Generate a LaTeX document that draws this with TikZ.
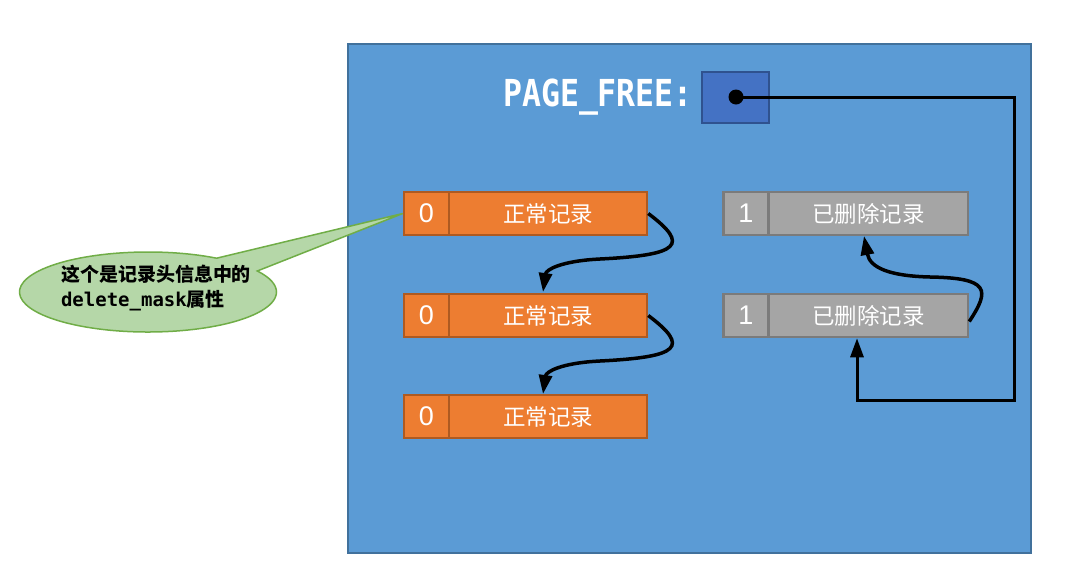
\documentclass[tikz,border=0pt]{standalone}
\usepackage{fontspec}
\setmainfont{Liberation Sans}
\newfontfamily\cjk{Noto Sans CJK SC}
\newfontfamily\monob{DejaVu Sans Mono}
\usetikzlibrary{shapes.callouts,arrows.meta}
\definecolor{pageblue}{HTML}{5B9BD5}
\definecolor{pageedge}{HTML}{41719C}
\definecolor{ptrfill}{HTML}{4472C4}
\definecolor{ptredge}{HTML}{2F528F}
\definecolor{recfill}{HTML}{ED7D31}
\definecolor{recedge}{HTML}{AE5A21}
\definecolor{delfill}{HTML}{A5A5A5}
\definecolor{deledge}{HTML}{7B7B7B}
\definecolor{notefill}{HTML}{B5D7A8}
\definecolor{noteedge}{HTML}{70AD47}
\tikzset{
  flagcell/.style={draw=#1, line width=2.5pt, minimum width=45pt, minimum height=43pt, inner sep=0pt, text=white, font=\fontsize{27}{27}\selectfont},
  labcell/.style={draw=#1, line width=2.5pt, minimum width=198pt, minimum height=43pt, inner sep=0pt, text=white, font=\cjk\fontsize{22.5}{22.5}\selectfont},
  link/.style={line width=3.5pt, -{Triangle[length=19pt,width=13pt]}}
}
\begin{document}
\begin{tikzpicture}[x=1pt,y=-1pt]
\useasboundingbox (0,0) rectangle (1069,574);
\node[draw=pageedge, fill=pageblue, line width=2.5pt, minimum width=683pt, minimum height=509pt, inner sep=0pt] (page) at (689.5,298.5) {};
\node[anchor=east, text=white, inner sep=0pt, font=\monob\bfseries\fontsize{31.5}{31.5}\selectfont] (pflabel) at (693,97) {\scalebox{1}[1.18]{PAGE\_FREE:}};
\node[draw=ptredge, fill=ptrfill, line width=2.5pt, minimum width=67pt, minimum height=51pt, inner sep=0pt] (pf) at (735.5,97.5) {};
\coordinate (dot) at (736,97);
% normal records
\node[flagcell=recedge, fill=recfill] (f1) at (426.5,213.5) {0};
\node[labcell=recedge, fill=recfill] (r1) at (548,213.5) {正常记录};
\node[flagcell=recedge, fill=recfill] (f2) at (426.5,315.5) {0};
\node[labcell=recedge, fill=recfill] (r2) at (548,315.5) {正常记录};
\node[flagcell=recedge, fill=recfill] (f3) at (426.5,416.5) {0};
\node[labcell=recedge, fill=recfill] (r3) at (548,416.5) {正常记录};
% deleted records
\node[flagcell=deledge, fill=delfill] (g1) at (746,213.5) {1};
\node[labcell=deledge, fill=delfill, minimum width=199pt] (d1) at (868.5,213.5) {已删除记录};
\node[flagcell=deledge, fill=delfill] (g2) at (746,315.5) {1};
\node[labcell=deledge, fill=delfill, minimum width=199pt] (d2) at (868.5,315.5) {已删除记录};
% links
\draw[link] (r1.east) .. controls (690,245) and (680,255) .. (600,259) .. controls (560,261) and (546,270) .. (543,292);
\draw[link] (r2.east) .. controls (690,347) and (680,357) .. (600,361) .. controls (560,363) and (546,372) .. (543,394);
\draw[link] ([yshift=-6pt]d2.east) .. controls (990,290) and (990,278) .. (930,277) .. controls (890,276) and (870,268) .. (864,236);
\draw[line width=3pt, -{Triangle[length=19pt,width=13pt]}] (dot) -- (1014,97) -- (1014,400) -- (857,400) -- ([xshift=-11.5pt]d2.south);
\fill (dot) circle (7.5pt);
% callout
\node[ellipse callout, draw=noteedge, fill=notefill, line width=1.5pt, minimum width=257pt, minimum height=80pt, inner sep=0pt, callout absolute pointer={(f1.west)}, callout pointer arc=26] (note) at (148,292) {};
\node[align=left, inner sep=0pt, font=\bfseries\fontsize{19}{25}\selectfont] (notetext) at (156,288) {{\cjk 这个是记录头信息中的}\\{\monob delete\_mask}{\cjk 属性}};
\end{tikzpicture}
\end{document}
